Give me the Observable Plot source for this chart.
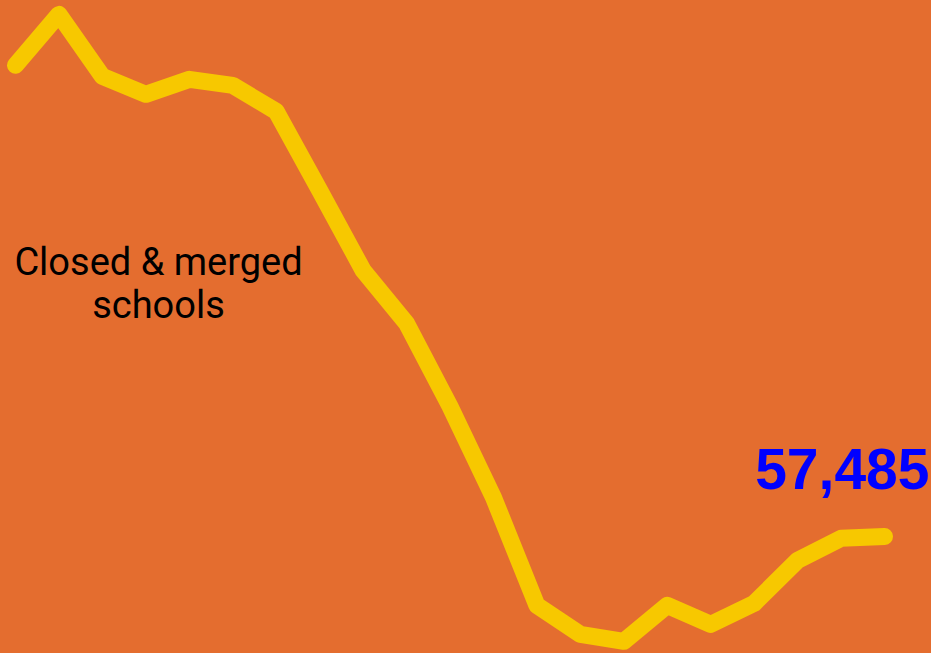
<!DOCTYPE html>
<html>
<head>
<meta charset="utf-8">
<script src="https://cdn.jsdelivr.net/npm/d3@7"></script>
<script src="https://cdn.jsdelivr.net/npm/@observablehq/plot@0.6"></script>
<style>
  html, body { margin: 0; padding: 0; background: #E46D2F; }
  #chart svg { display: block; }
</style>
</head>
<body>
<div id="chart"></div>
<script>
const years = [2000,2001,2002,2003,2004,2005,2006,2007,2008,2009,2010,2011,2012,2013,2014,2015,2016,2017,2018,2019,2020];
const enrollment = [104600,109700,103500,101700,103200,102600,100000,92100,84100,78800,70500,61400,50600,47700,47000,50600,48700,50800,55100,57300,57485];
const labelText = "Closed & merged\nschools";

const data = years.map((y, i) => ({year: y, value: enrollment[i]}));
const last = data[data.length - 1];

const chart = Plot.plot({
  width: 931,
  height: 653,
  marginLeft: 15,
  marginRight: 47,
  marginTop: 14,
  marginBottom: 12,
  style: {background: "#E46D2F", overflow: "visible"},
  x: {domain: [years[0], years[years.length - 1]], axis: null},
  y: {domain: [46985, 109685], axis: null},
  marks: [
    Plot.line(data, {x: "year", y: "value", stroke: "#F7C800", strokeWidth: 17, strokeLinecap: "round", strokeLinejoin: "round"}),
    Plot.text([last], {x: "year", y: "value", text: d => d3.format(",")(d.value), fill: "#0000FF", fontSize: 57, fontWeight: "bold", fontFamily: "Liberation Sans", textAnchor: "end", dx: 45, dy: -66}),
    Plot.text([labelText], {frameAnchor: "top-left", text: d => d, textAnchor: "middle", lineAnchor: "top", lineHeight: 1.13, dx: 143, dy: 230, fill: "#000", fontSize: 38, fontFamily: "Roboto"})
  ]
});
document.getElementById("chart").appendChild(chart);
</script>
</body>
</html>
